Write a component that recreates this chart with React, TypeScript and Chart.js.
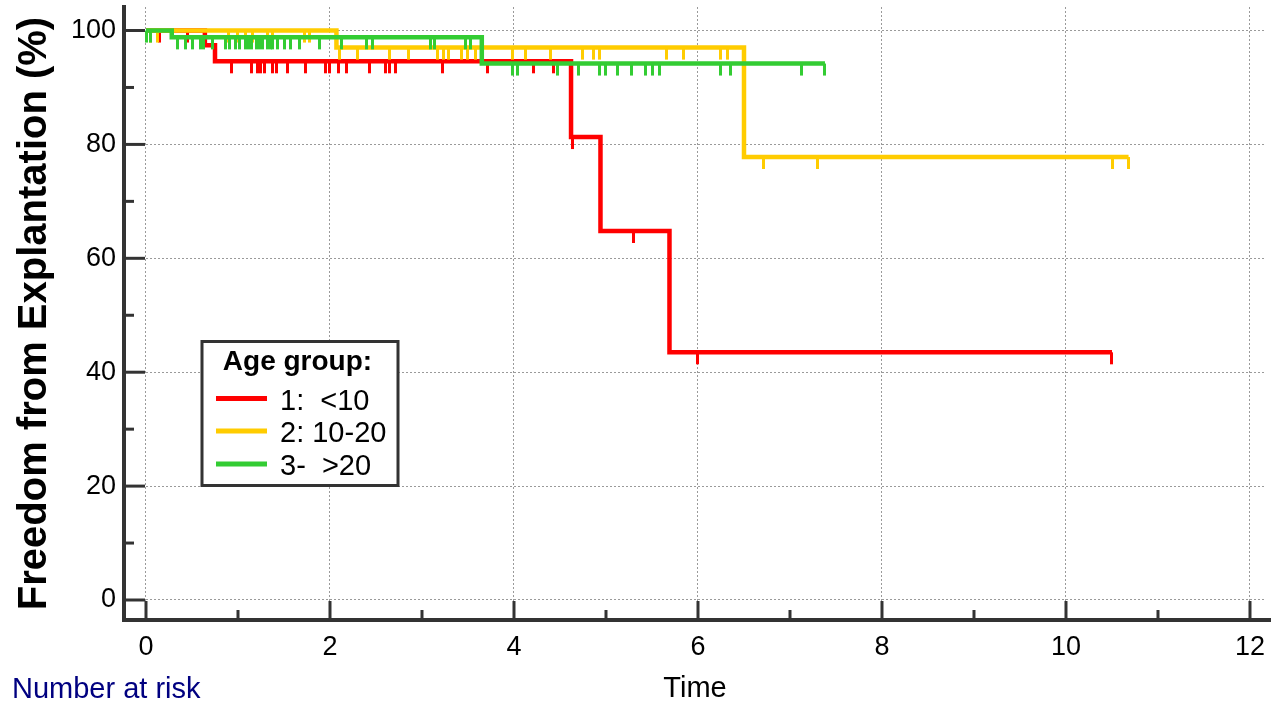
import React, { useEffect, useRef } from 'react';
import { Chart, registerables } from 'chart.js';

Chart.register(...registerables);

const W = 1271;
const H = 703;
const FONT = '"Liberation Sans", Arial, Helvetica, sans-serif';

// ---- Legend / groups ----
const legendTitle = 'Age group:';
const groupLabels = ['1:  <10', '2: 10-20', '3-  >20'];
const groupColors = ['#ff0000', '#ffcc00', '#33cc33'];

// ---- Kaplan-Meier steps (time in years, survival in %) ----
const redTimes = [0, 0.64, 0.75, 4.62, 4.94, 5.69, 10.5];
const redSurv = [100, 97.4, 94.6, 81.3, 64.8, 43.5, 43.5];
const redCensor = [
  0.15, 0.45, 0.93, 1.15, 1.21, 1.24, 1.29, 1.38, 1.42, 1.54, 1.73, 1.95, 2.0, 2.09,
  2.18, 2.43, 2.6, 2.65, 2.71, 3.22, 3.71, 4.21, 4.43, 4.64, 5.3, 5.99, 10.5,
];

const yellowTimes = [0, 2.07, 6.5, 10.68];
const yellowSurv = [100, 97.0, 77.8, 77.8];
const yellowCensor = [
  0.05, 0.12, 0.9, 0.99, 1.08, 1.16, 1.32, 1.38, 1.72, 1.78,
  2.1, 2.3, 2.65, 2.85, 3.17, 3.23, 3.29, 3.43, 3.49, 3.58, 3.98, 4.12, 4.4, 4.74,
  4.86, 4.93, 5.66, 5.84, 6.24, 6.32,
  6.71, 7.3, 10.51, 10.68,
];

const greenTimes = [0, 0.28, 3.65, 7.38];
const greenSurv = [100, 98.8, 94.2, 94.2];
const greenCensor = [
  0.01, 0.05,
  0.34, 0.43, 0.51, 0.59, 0.62, 0.72, 0.86, 0.91, 0.97, 1.02, 1.08, 1.11, 1.15, 1.2,
  1.23, 1.27, 1.32, 1.35, 1.38, 1.43, 1.51, 1.57, 1.67, 1.89, 2.12, 2.4, 2.46, 3.09,
  3.14, 3.47, 3.53,
  3.98, 4.04, 4.47, 4.7, 4.93, 4.99, 5.13, 5.28, 5.43, 5.51, 5.58, 6.24, 6.35, 7.13, 7.38,
];

// ---- Axes ----
const xTicks = [0, 2, 4, 6, 8, 10, 12];
const xMinorTicks = [1, 3, 5, 7, 9, 11];
const yTicks = [0, 20, 40, 60, 80, 100];
const yMinorTicks = [10, 30, 50, 70, 90];
const xMin = -0.2391;
const xMax = 12.174;
const yMin = -3.512;
const yMax = 104.13;

function survAt(times: number[], surv: number[], t: number): number {
  let v = surv[0];
  for (let i = 0; i < times.length; i++) if (times[i] <= t + 1e-9) v = surv[i];
  return v;
}

function makeTick(color: string): HTMLCanvasElement {
  const c = document.createElement('canvas');
  c.width = 3;
  c.height = 26;
  const g = c.getContext('2d')!;
  g.fillStyle = color;
  g.fillRect(0, 13, 3, 12);
  return c;
}

const decorPlugin = {
  id: 'kmDecor',
  afterDraw(chart: any) {
    const { ctx, chartArea, scales } = chart;
    const xs = scales.x;
    const ys = scales.y;
    ctx.save();
    ctx.strokeStyle = '#333333';
    ctx.lineCap = 'butt';
    const seg = (x1: number, y1: number, x2: number, y2: number) => {
      ctx.beginPath();
      ctx.moveTo(x1, y1);
      ctx.lineTo(x2, y2);
      ctx.stroke();
    };
    // extend the time axis line to the page edge
    ctx.lineWidth = 4;
    seg(chartArea.right - 1, chartArea.bottom, W, chartArea.bottom);
    ctx.lineWidth = 3;
    for (const v of xTicks) {
      const px = xs.getPixelForValue(v);
      seg(px, chartArea.bottom, px, chartArea.bottom - 19);
    }
    for (const v of xMinorTicks) {
      const px = xs.getPixelForValue(v);
      seg(px, chartArea.bottom, px, chartArea.bottom - 10);
    }
    for (const v of yTicks) {
      const py = ys.getPixelForValue(v);
      seg(chartArea.left, py, chartArea.left + 21, py);
    }
    for (const v of yMinorTicks) {
      const py = ys.getPixelForValue(v);
      seg(chartArea.left, py, chartArea.left + 10, py);
    }

    // Legend box
    const bx = 202, by = 341.5, bw = 196, bh = 144;
    ctx.fillStyle = '#ffffff';
    ctx.fillRect(bx, by, bw, bh);
    ctx.strokeStyle = '#333333';
    ctx.lineWidth = 3;
    ctx.strokeRect(bx, by, bw, bh);
    ctx.fillStyle = '#000000';
    ctx.font = `bold 28px ${FONT}`;
    ctx.textAlign = 'center';
    ctx.textBaseline = 'alphabetic';
    ctx.fillText(legendTitle, 297.5, 370);
    const rows = [398.5, 431, 464];
    const bases = [410, 442, 475];
    ctx.font = `29px ${FONT}`;
    ctx.textAlign = 'left';
    groupLabels.forEach((lab, i) => {
      ctx.strokeStyle = groupColors[i];
      ctx.lineWidth = 5;
      seg(216, rows[i], 267, rows[i]);
      ctx.fillStyle = '#000000';
      ctx.fillText(lab, 280, bases[i]);
    });

    // Number at risk
    ctx.fillStyle = '#000080';
    ctx.font = `29px ${FONT}`;
    ctx.textAlign = 'left';
    ctx.fillText('Number at risk', 12, 698);
    ctx.restore();
  },
};

export default function App() {
  const ref = useRef<HTMLCanvasElement>(null);
  useEffect(() => {
    const canvas = ref.current!;
    const groups = [
      { label: groupLabels[0], color: groupColors[0], times: redTimes, surv: redSurv, cens: redCensor },
      { label: groupLabels[1], color: groupColors[1], times: yellowTimes, surv: yellowSurv, cens: yellowCensor },
      { label: groupLabels[2], color: groupColors[2], times: greenTimes, surv: greenSurv, cens: greenCensor },
    ];
    const datasets: any[] = [];
    groups.forEach((g, i) => {
      const base = (2 - i) * 2;
      datasets.push({
        type: 'line',
        label: g.label,
        data: g.times.map((t, k) => ({ x: t, y: g.surv[k] })),
        borderColor: g.color,
        backgroundColor: g.color,
        borderWidth: 4.5,
        stepped: 'before',
        pointRadius: 0,
        fill: false,
        order: base,
      });
      datasets.push({
        type: 'line',
        label: g.label + ' (censored)',
        data: g.cens.map((t) => ({ x: t, y: survAt(g.times, g.surv, t) })),
        showLine: false,
        pointStyle: makeTick(g.color),
        pointRadius: 4,
        order: base + 1,
      });
    });

    const chart = new Chart(canvas, {
      type: 'line',
      data: { datasets },
      plugins: [decorPlugin],
      options: {
        responsive: false,
        animation: false,
        events: [],
        layout: { padding: { top: 7, left: 0, right: 0, bottom: 0 } },
        plugins: { legend: { display: false }, tooltip: { enabled: false } },
        scales: {
          x: {
            type: 'linear',
            min: xMin,
            max: xMax,
            afterBuildTicks: (s: any) => {
              s.ticks = xTicks.map((v) => ({ value: v }));
            },
            afterFit: (s: any) => {
              s.height = 83;
              s.paddingLeft = 0;
              s.paddingRight = 0;
            },
            grid: { color: '#9a9a9a', lineWidth: 1, drawTicks: false },
            border: { display: true, color: '#333333', width: 4, dash: [2, 2] },
            ticks: {
              padding: 11,
              color: '#000000',
              maxRotation: 0,
              autoSkip: false,
              font: { size: 27, family: FONT },
              callback: (v: any) => String(v),
            },
            title: {
              display: true,
              text: 'Time',
              color: '#000000',
              font: { size: 29, family: FONT, lineHeight: 1 },
              padding: { top: 0, bottom: 0 },
            },
          },
          y: {
            type: 'linear',
            min: yMin,
            max: yMax,
            afterBuildTicks: (s: any) => {
              s.ticks = yTicks.map((v) => ({ value: v }));
            },
            afterFit: (s: any) => {
              s.width = 124;
              s.paddingTop = 0;
              s.paddingBottom = 0;
            },
            grid: { color: '#9a9a9a', lineWidth: 1, drawTicks: false },
            border: { display: true, color: '#333333', width: 4, dash: [2, 2] },
            ticks: {
              padding: 8,
              color: '#000000',
              font: { size: 27, family: FONT },
              callback: (v: any) => String(v),
            },
            title: {
              display: true,
              text: 'Freedom from Explantation (%)',
              color: '#000000',
              font: { size: 40, weight: 'bold', family: FONT, lineHeight: 1 },
              padding: { top: 15, bottom: 0 },
            },
          },
        },
      } as any,
    });
    return () => chart.destroy();
  }, []);

  return (
    <div style={{ position: 'fixed', left: 0, top: 0, width: W, height: H, background: '#ffffff' }}>
      <canvas ref={ref} width={W} height={H} style={{ display: 'block' }} />
    </div>
  );
}
